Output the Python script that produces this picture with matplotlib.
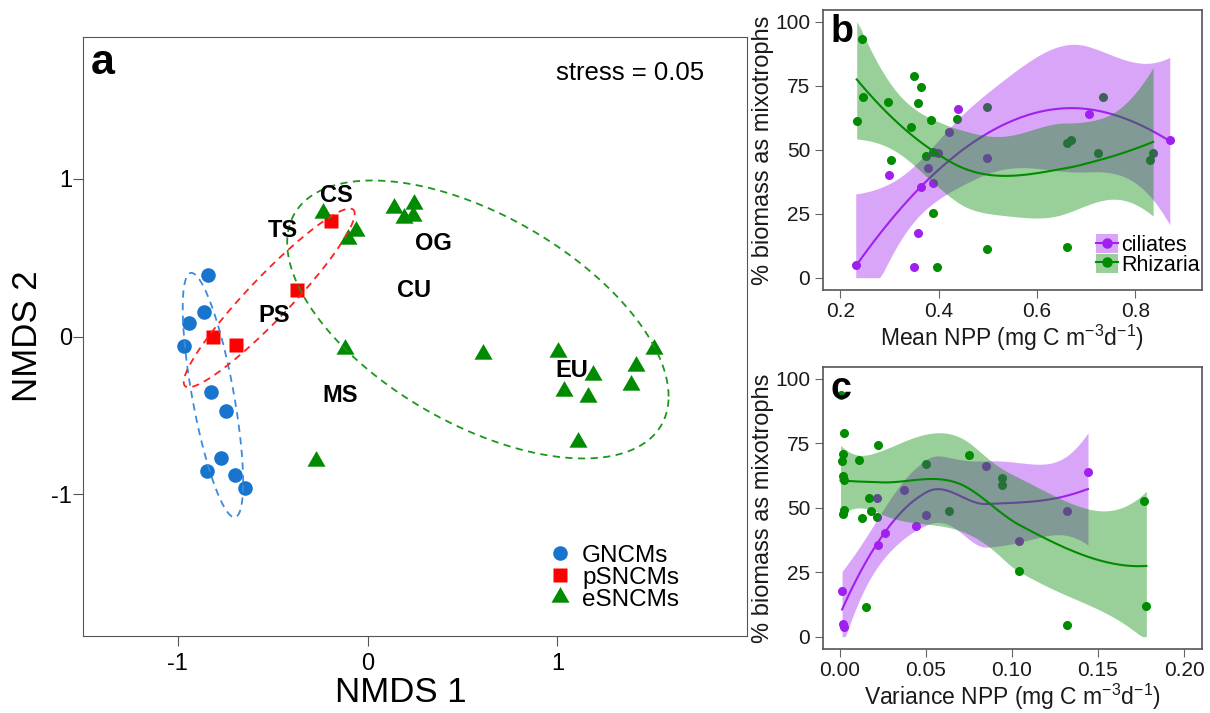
import numpy as np
import matplotlib
matplotlib.use("Agg")
import matplotlib.pyplot as plt
from matplotlib.lines import Line2D
from matplotlib.patches import Patch

plt.rcParams['font.family'] = ['Liberation Sans', 'DejaVu Sans']
plt.rcParams['mathtext.fontset'] = 'custom'
plt.rcParams['mathtext.rm'] = 'Liberation Sans'
plt.rcParams['mathtext.default'] = 'regular'
plt.rcParams['axes.unicode_minus'] = False

# ---- panel a: NMDS scores ----
gn_x = [-0.842, -0.863, -0.942, -0.968, -0.826, -0.747, -0.773, -0.847, -0.699, -0.646]
gn_y = [0.392, 0.158, 0.089, -0.057, -0.354, -0.475, -0.772, -0.854, -0.880, -0.962]
ps_x = [-0.815, -0.694, -0.372, -0.193]
ps_y = [0.000, -0.051, 0.297, 0.734]
es_x = [-0.235, -0.061, -0.103, 0.140, 0.245, 0.193, 0.240, -0.119, -0.272, 0.609,
        1.005, 1.512, 1.417, 1.190, 1.037, 1.390, 1.164, 1.111]
es_y = [0.785, 0.671, 0.620, 0.816, 0.842, 0.753, 0.766, -0.082, -0.791, -0.108,
        -0.101, -0.076, -0.184, -0.247, -0.348, -0.310, -0.386, -0.671]
region_names = ["CS", "TS", "OG", "CU", "PS", "MS", "EU"]
region_x = [-0.166, -0.446, 0.346, 0.245, -0.493, -0.145, 1.074]
region_y = [0.892, 0.671, 0.589, 0.291, 0.133, -0.373, -0.215]

# ---- panel b / c: % biomass as mixotrophs ----
cil_mean = [0.231, 0.298, 0.349, 0.358, 0.363, 0.379, 0.389, 0.398, 0.421, 0.440, 0.498, 0.706, 0.870]
cil_mean_y = [4.9, 40.0, 4.0, 17.5, 35.4, 42.7, 37.0, 48.6, 56.8, 65.9, 46.8, 63.8, 53.9]
rhz_mean = [0.233, 0.243, 0.246, 0.296, 0.302, 0.343, 0.349, 0.358, 0.363, 0.374, 0.384, 0.388,
            0.388, 0.397, 0.438, 0.498, 0.498, 0.660, 0.669, 0.660, 0.724, 0.734, 0.829, 0.836]
rhz_mean_y = [61.1, 93.2, 70.4, 68.5, 45.8, 58.8, 78.9, 68.1, 74.3, 47.4, 61.4, 49.0,
              25.3, 4.3, 61.8, 66.8, 11.3, 52.5, 53.6, 11.8, 48.6, 70.4, 46.1, 48.6]
cil_var = [0.0013, 0.0019, 0.0023, 0.0222, 0.0217, 0.0261, 0.0372, 0.0441, 0.0503, 0.0852, 0.104, 0.1322, 0.1442]
cil_var_y = [17.5, 4.8, 3.9, 35.5, 53.6, 40.0, 56.9, 42.8, 47.0, 66.0, 37.0, 48.7, 63.9]
rhz_var = [0.0004, 0.0023, 0.0016, 0.0010, 0.0016, 0.0025, 0.0023, 0.0016, 0.0112, 0.0222, 0.0170, 0.0180,
           0.0126, 0.0217, 0.0749, 0.0151, 0.104, 0.0503, 0.0633, 0.0945, 0.0941, 0.1767, 0.1781, 0.1322]
rhz_var_y = [93.5, 79.0, 70.8, 68.2, 62.1, 60.8, 49.1, 47.4, 68.6, 74.4, 53.6, 48.7,
             45.9, 46.4, 70.5, 11.3, 25.3, 66.9, 48.7, 61.4, 58.8, 52.6, 12.0, 4.3]

BLUE, RED, GREEN = '#1874CD', '#FF0000', '#008B00'
PURPLE = '#A020F0'


def cov_ellipse(x, y, k):
    xy = np.column_stack([x, y])
    c = xy.mean(axis=0)
    L = np.linalg.cholesky(np.cov(xy.T))
    t = np.linspace(0, 2 * np.pi, 200)
    circ = np.column_stack([np.cos(t), np.sin(t)])
    pts = c + k * circ @ L.T
    return pts[:, 0], pts[:, 1]


def t_quant(df, z=1.959964):
    # Cornish-Fisher expansion of the t quantile
    g1 = (z**3 + z) / 4
    g2 = (5 * z**5 + 16 * z**3 + 3 * z) / 96
    g3 = (3 * z**7 + 19 * z**5 + 17 * z**3 - 15 * z) / 384
    g4 = (79 * z**9 + 776 * z**7 + 1482 * z**5 - 1920 * z**3 - 945 * z) / 92160
    return z + g1 / df + g2 / df**2 + g3 / df**3 + g4 / df**4


def loess(x, y, span=1.0, cell=0.2, n_grid=80):
    # local quadratic loess, kd-tree vertices + cubic Hermite blending (like R's default surface)
    x = np.asarray(x, float)
    y = np.asarray(y, float)
    n = len(x)
    q = min(int(np.floor(n * span)), n)
    fc = int(np.floor(n * span * cell))
    xs = np.sort(x)
    mu = 0.005 * (xs[-1] - xs[0])
    verts = [xs[0] - mu, xs[-1] + mu]

    def build(l, u, a, b):
        if u - l + 1 <= fc:
            return
        m = (l + u) // 2
        v = xs[m]
        if v == a or v == b:
            return
        verts.append(v)
        build(l, m, a, v)
        build(m + 1, u, v, b)

    build(0, n - 1, verts[0], verts[1])
    V = np.array(sorted(verts))

    def local(x0):
        d = np.abs(x - x0)
        h = np.sort(d)[q - 1]
        w = np.clip(1 - (d / h) ** 3, 0, None) ** 3
        B = np.column_stack([np.ones(n), x - x0, (x - x0) ** 2])
        BW = B.T * w
        S = np.linalg.solve(BW @ B, BW)
        return S[0], S[1]

    vr = [local(v) for v in V]
    val = np.array([r[0] for r in vr])
    slo = np.array([r[1] for r in vr])

    def op_rows(xq):
        idx = np.clip(np.searchsorted(V, xq, side='right') - 1, 0, len(V) - 2)
        v0, v1 = V[idx], V[idx + 1]
        hh = v1 - v0
        t = (xq - v0) / hh
        h00 = 2 * t**3 - 3 * t**2 + 1
        h10 = t**3 - 2 * t**2 + t
        h01 = -2 * t**3 + 3 * t**2
        h11 = t**3 - t**2
        return (h00[:, None] * val[idx] + (h10 * hh)[:, None] * slo[idx]
                + h01[:, None] * val[idx + 1] + (h11 * hh)[:, None] * slo[idx + 1])

    Lm = op_rows(x)
    res = y - Lm @ y
    IL = np.eye(n) - Lm
    M = IL.T @ IL
    one = np.trace(M)
    two = np.trace(M @ M)
    sigma = np.sqrt(np.sum(res**2) / one)
    tq = t_quant(one**2 / two)
    xg = np.linspace(x.min(), x.max(), n_grid)
    rows = op_rows(xg)
    fit = rows @ y
    se = sigma * np.sqrt(np.sum(rows**2, axis=1))
    lo = np.clip(fit - tq * se, 0, 100)
    hi = np.clip(fit + tq * se, 0, 100)
    return xg, fit, lo, hi


fig = plt.figure(figsize=(12.1, 7.13), dpi=100)

# ================= panel a =================
ax = fig.add_axes([0.0686, 0.108, 0.5488, 0.840])
tri = [(-1, -0.577), (1, -0.577), (0, 1.155)]
ax.plot(gn_x, gn_y, 'o', color=BLUE, ms=10.5, mec='none', zorder=2)
ax.plot(ps_x, ps_y, 's', color=RED, ms=10, mec='none', zorder=2)
ax.plot(es_x, es_y, linestyle='none', marker=tri, color=GREEN, ms=15, mec='none', zorder=2)

k = np.sqrt(-2 * np.log(1 - 0.71))
for gx, gy, col in [(gn_x, gn_y, '#3C8AE0'), (ps_x, ps_y, '#FF2020'), (es_x, es_y, '#1E961E')]:
    ex, ey = cov_ellipse(gx, gy, k)
    ax.plot(ex, ey, color=col, lw=1.3, dashes=(4, 3), zorder=3)

for name, x, y in zip(region_names, region_x, region_y):
    ax.text(x, y, name, fontsize=17, fontweight='bold', ha='center', va='center', zorder=4)

ax.set_xlim(-1.5, 2.0)
ax.set_ylim(-1.9, 1.9)
ax.set_xticks([-1, 0, 1])
ax.set_yticks([-1, 0, 1])
ax.tick_params(labelsize=17, length=7, color='#555555', pad=5)
ax.tick_params(axis='y', pad=1)
for s in ax.spines.values():
    s.set_color('#555555')
ax.set_xlabel('NMDS 1', fontsize=25)
ax.xaxis.set_label_coords(0.479, -0.067)
ax.set_ylabel('NMDS 2', fontsize=25, labelpad=5)
ax.text(0.012, 0.99, 'a', transform=ax.transAxes, fontsize=31, fontweight='bold', va='top', ha='left')
ax.text(0.935, 0.94, 'stress = 0.05', transform=ax.transAxes, fontsize=18.5, ha='right', va='center')

handles = [Line2D([], [], ls='none', marker='o', color=BLUE, ms=10.5, mec='none'),
           Line2D([], [], ls='none', marker='s', color=RED, ms=10, mec='none'),
           Line2D([], [], ls='none', marker=tri, color=GREEN, ms=15, mec='none')]
ax.legend(handles, ['GNCMs', 'pSNCMs', 'eSNCMs'], loc='lower left', bbox_to_anchor=(0.682, 0.022),
          frameon=False, fontsize=17.5, handlelength=1.0, handletextpad=0.4, labelspacing=0.0,
          borderpad=0)


# ================= panels b, c =================
def mixo_panel(rect, cx, cy, rx, ry, xlim, xticks, xticklabels, xlabel, letter):
    a = fig.add_axes(rect)
    a.plot(cx, cy, 'o', color=PURPLE, ms=6.5, mec='none', zorder=2)
    a.plot(rx, ry, 'o', color=GREEN, ms=6.5, mec='none', zorder=2)
    xg, f, lo, hi = loess(cx, cy)
    a.fill_between(xg, lo, hi, color=PURPLE, alpha=0.4, lw=0, zorder=3)
    a.plot(xg, f, color=PURPLE, lw=1.5, zorder=3)
    xg, f, lo, hi = loess(rx, ry)
    a.fill_between(xg, lo, hi, color=GREEN, alpha=0.4, lw=0, zorder=4)
    a.plot(xg, f, color=GREEN, lw=1.5, zorder=4)
    a.set_xlim(*xlim)
    a.set_ylim(-4.8, 104.5)
    a.set_xticks(xticks)
    a.set_xticklabels(xticklabels)
    a.set_yticks([0, 25, 50, 75, 100])
    a.tick_params(labelsize=15, length=6, color='#666666', labelcolor='#1a1a1a', pad=3)
    for s in a.spines.values():
        s.set_color('#555555')
        s.set_linewidth(1.2)
    a.set_xlabel(xlabel, fontsize=16.5, labelpad=1, color='#1a1a1a')
    a.set_ylabel('% biomass as mixotrophs', fontsize=17, labelpad=1, color='#1a1a1a')
    a.text(0.02, 0.985, letter, transform=a.transAxes, fontsize=27, fontweight='bold', va='top', ha='left', zorder=6)
    return a


axb = mixo_panel([0.680, 0.5933, 0.3132, 0.3927], cil_mean, cil_mean_y, rhz_mean, rhz_mean_y,
                 (0.164, 0.935), [0.2, 0.4, 0.6, 0.8], ['0.2', '0.4', '0.6', '0.8'],
                 'Mean NPP (mg C m$^{-3}$d$^{-1}$)', 'b')
leg_h = [(Patch(facecolor=PURPLE, alpha=0.4, lw=0), Line2D([], [], color=PURPLE, marker='o', ms=6.5, lw=1.5)),
         (Patch(facecolor=GREEN, alpha=0.4, lw=0), Line2D([], [], color=GREEN, marker='o', ms=6.5, lw=1.5))]
axb.legend(leg_h, ['ciliates', 'Rhizaria'], loc='lower right', bbox_to_anchor=(0.995, 0.05),
           frameon=False, fontsize=15.5, handlelength=1.0, handleheight=1.0, handletextpad=0.15,
           labelspacing=-0.1, borderpad=0, borderaxespad=0)

axc = mixo_panel([0.680, 0.0898, 0.3132, 0.3955], cil_var, cil_var_y, rhz_var, rhz_var_y,
                 (-0.0099, 0.2103), [0.0, 0.05, 0.10, 0.15, 0.20], ['0.00', '0.05', '0.10', '0.15', '0.20'],
                 'Variance NPP (mg C m$^{-3}$d$^{-1}$)', 'c')

fig.savefig('out.png', dpi=100)
